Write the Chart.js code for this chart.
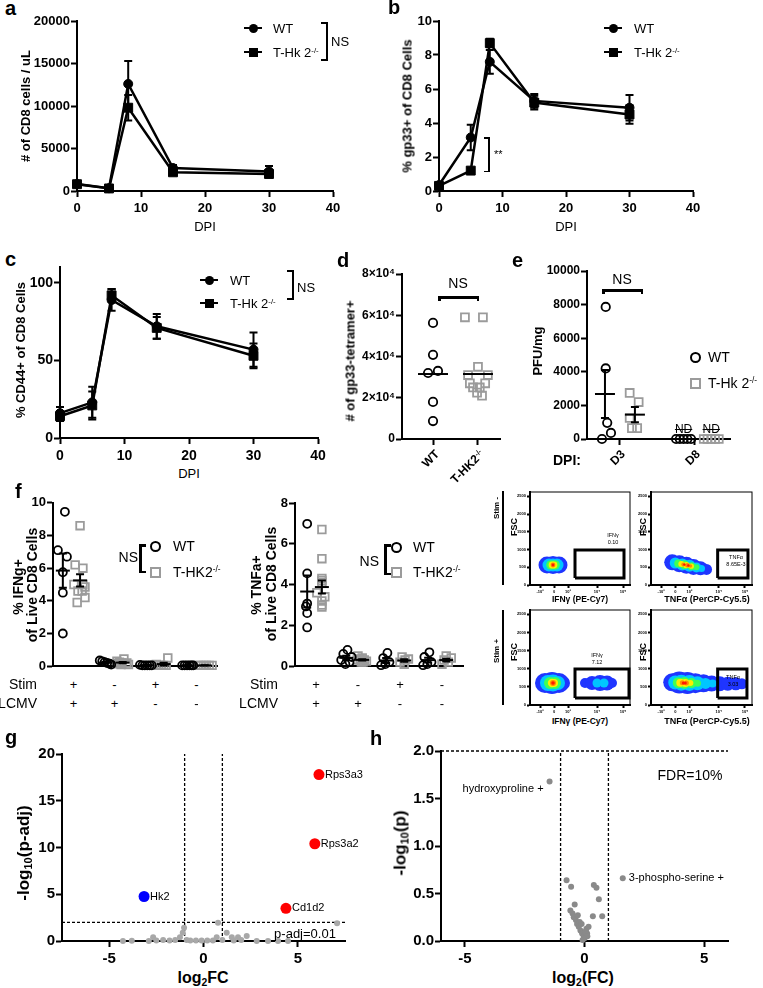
<!DOCTYPE html>
<html>
<head>
<meta charset="utf-8">
<script src="https://cdn.jsdelivr.net/npm/chart.js@4.4.1/dist/chart.umd.min.js"></script>
<style>
body { margin: 0; background: #fff; }
#fig { position: relative; width: 763px; height: 988px; overflow: hidden; font-family: 'Liberation Sans', Arial, sans-serif; color: #000; }
#fig canvas { position: absolute; }
.t { position: absolute; white-space: nowrap; line-height: 1; }
.b { font-weight: bold; }
sup { font-size: 0.6em; position: relative; top: -0.55em; vertical-align: 0; }
sub { font-size: 0.65em; position: relative; top: 0.3em; vertical-align: 0; }
</style>
</head>
<body>
<div id="fig"></div>
<script>
// ---------- data ----------
const dpi = [0, 5, 8, 15, 30];
const cd8WT = [820, 330, 12600, 2700, 2300];
const cd8WTErr = [250, 120, 2700, 350, 650];
const cd8KO = [800, 300, 9800, 2200, 2000];
const cd8KOErr = [200, 100, 1500, 300, 350];
const gp33WT = [0.35, 3.15, 7.6, 5.3, 4.9];
const gp33WTErr = [0.1, 0.75, 0.7, 0.4, 0.75];
const gp33KO = [0.3, 1.2, 8.7, 5.2, 4.5];
const gp33KOErr = [0.1, 0.15, 0.25, 0.4, 0.55];
const cd44WT = [16, 23, 89, 72, 57];
const cd44WTErr = [4, 10, 7, 8, 11];
const cd44KO = [14, 21, 92, 71, 53];
const cd44KOErr = [3, 9, 4, 7, 8];
const cd44Ticks = [0, 50, 100];

// d: gp33-tetramer+ counts (x offset inside each group)
const tetGroups = ['WT', 'T-HK2<sup>-/-</sup>'];
const tetWT = [56300, 40800, 33000, 32000, 18000, 8700];
const tetWTOff = [0, 0, 0.11, -0.11, 0, 0];
const tetKO = [59000, 59000, 35000, 31000, 31000, 27000, 27000, 25000, 25000, 22500, 21000];
const tetKOOff = [-0.29, 0.11, 0, -0.22, 0.22, -0.18, 0.16, -0.11, 0.04, -0.02, 0.09];
const tetMean = [31500, 31500];

// e: viral titres
const pfuDays = ['D3', 'D8'];
const pfuWT = [[7860, 4200, 960, 360, 0], [0, 0, 0, 0, 0]];
const pfuWTOff = [[-0.19, -0.19, -0.17, -0.12, -0.24], [-0.25, -0.2, -0.15, -0.1, -0.05]];
const pfuKO = [[2740, 2200, 1250, 650, 650], [0, 0, 0, 0, 0]];
const pfuKOOff = [[0.13, 0.25, 0.13, 0.16, 0.23], [0.12, 0.17, 0.22, 0.27, 0.32]];
const pfuWTMean = [2680], pfuWTSem = [1430];
const pfuKOMean = [1450], pfuKOSem = [450];

// f: cytokine staining, four conditions
const stimSigns = ['+', '-', '+', '-'];
const lcmvSigns = ['+', '+', '-', '-'];
const ifngWT = [[9.45, 7.1, 6.7, 5.75, 4.5, 2.0], [0.35, 0.3, 0.25, 0.2, 0.15, 0.1], [0.08, 0.05, 0.05, 0.05, 0.05, 0.05], [0.05, 0.05, 0.05, 0.05, 0.05, 0.05]];
const ifngWTOff = [[-0.21, -0.38, -0.16, -0.26, -0.26, -0.26], [-0.36, -0.3, -0.24, -0.18, -0.12, -0.08], [-0.38, -0.32, -0.26, -0.2, -0.14, -0.09], [-0.35, -0.29, -0.23, -0.17, -0.12, -0.08]];
const ifngKO = [[8.6, 6.2, 6.0, 5.0, 5.0, 4.85, 4.6, 4.6, 4.2, 3.9], [0.45, 0.3, 0.25, 0.2, 0.2, 0.15, 0.1, 0.1], [0.5, 0.1, 0.05, 0.05, 0.05, 0.05], [0.05, 0.05, 0.05, 0.05, 0.05, 0.05]];
const ifngKOOff = [[0.16, 0.04, 0.23, 0.01, 0.23, 0.28, 0.11, 0.21, 0.28, 0.09], [0.23, 0.06, 0.12, 0.18, 0.3, 0.1, 0.16, 0.34], [0.3, 0.02, 0.08, 0.14, 0.2, 0.26], [0.04, 0.1, 0.17, 0.24, 0.31, 0.38]];
const ifngWTMean = [5.85, 0.22, 0.06, 0.05], ifngWTSem = [1.05, 0.04, 0.01, 0.01], ifngWTMeanOff = [-0.26, -0.22, -0.22, -0.22];
const ifngKOMean = [5.25, 0.22, 0.13, 0.05], ifngKOSem = [0.38, 0.04, 0.08, 0.01], ifngKOMeanOff = [0.16, 0.2, 0.2, 0.2];
const tnfWT = [[6.98, 4.55, 3.07, 2.93, 2.6, 1.9], [0.8, 0.6, 0.45, 0.3, 0.2, 0.1], [0.65, 0.4, 0.2, 0.1, 0.05], [0.68, 0.45, 0.2, 0.1, 0.05]];
const tnfWTOff = [[-0.21, -0.21, -0.21, -0.24, -0.21, -0.21], [-0.25, -0.35, -0.15, -0.4, -0.2, -0.3], [-0.3, -0.4, -0.25, -0.35, -0.45], [-0.3, -0.42, -0.25, -0.35, -0.45]];
const tnfKO = [[6.7, 5.27, 4.3, 4.2, 4.1, 3.6, 3.4, 3.2, 3.0, 2.9], [0.5, 0.4, 0.35, 0.3, 0.3, 0.25, 0.2, 0.2], [0.45, 0.35, 0.3, 0.2, 0.1], [0.5, 0.4, 0.3, 0.2, 0.1]];
const tnfKOOff = [[0.14, 0.14, 0.14, 0.14, 0.14, 0.02, 0.21, 0.14, 0.14, 0.14], [0.0, 0.1, 0.05, 0.15, -0.02, 0.2, 0.08, 0.12], [0.05, 0.2, 0.12, 0.0, 0.1], [0.1, 0.22, 0.05, 0.15, 0.0]];
const tnfWTMean = [3.66, 0.41, 0.28, 0.3], tnfWTSem = [0.78, 0.1, 0.12, 0.12], tnfWTMeanOff = [-0.21, -0.28, -0.33, -0.33];
const tnfKOMean = [3.88, 0.31, 0.28, 0.3], tnfKOSem = [0.32, 0.03, 0.06, 0.07], tnfKOMeanOff = [0.14, 0.1, 0.1, 0.1];

// flow plots: density levels, outer to inner, [x, FSC, r]
const flowXTicks = [10, 24, 38, 67, 93];
const flowXLabels = ['-10³', '0', '10³', '10⁴', '10⁵'];
const flowYTicks = [0, 500, 1000, 1500, 2000, 2500];
const ifnStimNeg = [
  [[17, 564, 8.5], [23, 564, 9], [29, 564, 8.5]],
  [[19, 564, 6.5], [23, 564, 6.5], [27, 564, 6.5]],
  [[21, 564, 4.8], [25, 564, 4.8]],
  [[22, 564, 3.4], [24, 564, 3.4]],
  [[23, 564, 2.4]],
  [[23, 564, 1.4]]
];
const tnfStimNeg = [
  [[21, 640, 8], [28, 600, 8.5], [35, 555, 8.5], [42, 510, 8], [49, 470, 7], [55, 440, 5.5]],
  [[24, 620, 5.5], [31, 580, 6], [38, 540, 6], [45, 495, 5], [50, 465, 3.5]],
  [[27, 605, 4], [33, 570, 4.5], [40, 530, 4], [45, 500, 3]],
  [[30, 590, 3], [35, 560, 3.2], [40, 530, 2.6]],
  [[32, 580, 2], [36, 555, 2.2], [39, 535, 1.8]],
  [[33, 575, 1.2], [37, 550, 1.2]]
];
const ifnStimPos = [
  [[15, 607, 10], [22, 607, 11], [29, 607, 10], [33, 607, 7], [55, 607, 5], [62, 607, 7], [70, 607, 8], [77, 607, 7.5], [82, 607, 5]],
  [[18, 607, 8], [23, 607, 8.5], [28, 607, 7], [67, 607, 4.5], [74, 607, 4.5]],
  [[20, 607, 6], [25, 607, 6]],
  [[22, 607, 4.2], [24, 607, 4]],
  [[23, 607, 3]],
  [[23, 607, 1.8]]
];
const tnfStimPos = [
  [[21, 625, 9], [28, 618, 11], [36, 610, 11], [44, 603, 10], [52, 598, 9], [60, 592, 8], [68, 588, 7.5], [76, 586, 7], [84, 585, 6.5], [90, 585, 5.5]],
  [[24, 620, 7], [30, 615, 8], [38, 608, 8], [46, 600, 7], [54, 595, 5.5], [61, 590, 4]],
  [[27, 615, 5.5], [33, 610, 6], [40, 604, 5], [46, 598, 3.5]],
  [[29, 614, 4], [34, 609, 4], [39, 604, 3]],
  [[31, 612, 2.5], [35, 608, 2.5]],
  [[32, 610, 1.5], [34, 608, 1.5]]
];
// gates: [xMin, xMax, fscMin, fscMax]
const ifnGateNeg = [45, 94, 197, 987];
const tnfGateNeg = [66, 96, 197, 987];
const ifnGatePos = [45, 99, 193, 994];
const tnfGatePos = [66, 95, 193, 994];

// g: RNA-seq volcano
const gUpX = [6.12, 5.9, 4.37], gUpY = [17.8, 10.4, 3.5], gUpNames = ['Rps3a3', 'Rps3a2', 'Cd1d2'];
const gDownX = [-3.15], gDownY = [4.76], gDownNames = ['Hk2'];
const gNsX = [-4.27, -3.8, -2.9, -2.67, -2.5, -2.14, -1.8, -1.5, -1.25, -1.03, -1.1, -0.89, -0.7, -0.4, -0.1, 0.2, 0.5, 0.7, 0.77, 1.0, 1.23, 1.5, 1.6, 1.83, 2.0, 2.29, 2.82, 3.42, 3.95, 4.48, 7.08];
const gNsY = [0, 0.02, 0, 0.39, 0.05, 0.1, 0.05, 0.1, 0.39, 1.41, 0.88, 0.1, 0.05, 0.05, 0.05, 0.05, 0.05, 0.39, 1.94, 0.1, 0.88, 0.39, 0.05, 0.39, 0.1, 0.53, 0, 0, 0, 0, 1.9];
const gFcCut = [-1, 1], gPCut = 2;

// h: metabolomics volcano
const hHitX = [-1.46, 1.6], hHitY = [1.68, 0.66], hHitNames = ['hydroxyproline +', '3-phospho-serine +'];
const hX = [-0.75, -0.56, -0.41, -0.59, -0.5, -0.45, -0.36, -0.31, -0.24, -0.17, -0.1, -0.03, 0, 0.08, 0.17, 0.11, -0.08, 0.39, 0.5, 0.6, 0.74, 0.35, -0.28, -0.2, 0.04, -0.12, 0.12];
const hY = [0.64, 0.57, 0.385, 0.32, 0.29, 0.25, 0.22, 0.18, 0.15, 0.11, 0.08, 0.05, 0.03, 0.13, 0.15, 0.08, 0.01, 0.59, 0.56, 0.44, 0.26, 0.26, 0.27, 0.2, 0.1, 0.18, 0.05];
const hFcCut = [-1, 1], hPCut = 2;

// ---------- helpers ----------
const fig = document.getElementById('fig');
Chart.defaults.font.family = "'Liberation Sans', Arial, sans-serif";
Chart.defaults.color = '#000';
Chart.defaults.animation = false;
const KO_GREY = '#9b9b9b';

function put(html, x, y, o = {}) {
  const d = document.createElement('div');
  d.className = 't' + (o.bold ? ' b' : '');
  d.innerHTML = html;
  d.style.left = x + 'px';
  d.style.top = y + 'px';
  d.style.fontSize = (o.size || 13) + 'px';
  const ax = { l: '0', c: '-50%', r: '-100%' }[o.anchor || 'l'];
  let tf = `translate(${ax},-50%)`;
  if (o.rot) {
    tf += ` rotate(${o.rot}deg)`;
    d.style.transformOrigin = o.origin || '50% 50%';
  }
  d.style.transform = tf;
  if (o.deco) d.style.textDecoration = o.deco;
  fig.appendChild(d);
  return d;
}

function rule(x, y, w, h, color) {
  const d = document.createElement('div');
  d.style.cssText = `position:absolute;left:${x}px;top:${y}px;width:${w}px;height:${h}px;background:${color || '#000'}`;
  fig.appendChild(d);
}

function mark(cx, cy, shape, open, withLine) {
  if (withLine) rule(cx - 9, cy - 1.25, 18, 2.5);
  const d = document.createElement('div');
  const s = open ? 7 : 9;
  let css = `position:absolute;left:${cx - s / 2 - (open ? 1.5 : 0)}px;top:${cy - s / 2 - (open ? 1.5 : 0)}px;width:${s}px;height:${s}px;`;
  if (open) css += `border:${shape === 'circle' ? '2px solid #000' : '2px solid ' + KO_GREY};`;
  else css += 'background:#000;';
  if (shape === 'circle') css += 'border-radius:50%;';
  d.style.cssText = css;
  fig.appendChild(d);
}

function ax(min, max, o = {}) {
  const a = {
    type: 'linear', min, max,
    grid: { drawOnChartArea: false, drawTicks: !o.noTicks, tickLength: o.tl || 6, tickWidth: o.tw || 2, color: '#000' },
    border: { color: '#000', width: o.bw || 2 },
    ticks: { display: !o.hide, color: '#000', font: { size: o.fs || 13, weight: 'bold' }, padding: o.pad ?? 2, maxRotation: 0, minRotation: 0, autoSkip: false, callback: o.fmt || (v => String(v)) }
  };
  if (o.step) a.ticks.stepSize = o.step;
  if (o.at) a.afterBuildTicks = s => { s.ticks = o.at.map(v => ({ value: v })); };
  return a;
}

function mkChart(box, area, config) {
  const c = document.createElement('canvas');
  const w = box[2] - box[0], h = box[3] - box[1];
  c.width = w; c.height = h;
  c.style.left = box[0] + 'px'; c.style.top = box[1] + 'px';
  c.style.width = w + 'px'; c.style.height = h + 'px';
  fig.appendChild(c);
  const o = config.options;
  o.responsive = false;
  o.maintainAspectRatio = false;
  o.layout = { autoPadding: false, padding: { left: 0, top: area[1] - box[1], right: box[2] - area[2], bottom: 0 } };
  o.scales.x.afterFit = s => { s.height = box[3] - area[3]; };
  o.scales.y.afterFit = s => { s.width = area[0] - box[0]; };
  o.plugins = Object.assign({ legend: { display: false }, tooltip: { enabled: false } }, o.plugins || {});
  config.data.datasets.forEach(d => { d.clip = false; });
  const ch = new Chart(c, config);
  ch.px = v => box[0] + ch.scales.x.getPixelForValue(v);
  ch.py = v => box[1] + ch.scales.y.getPixelForValue(v);
  return ch;
}

// whiskers for datasets that carry an err array
Chart.register({
  id: 'errBars',
  afterDatasetsDraw(chart) {
    const { ctx } = chart, y = chart.scales.y;
    chart.data.datasets.forEach((ds, i) => {
      if (!ds.err) return;
      const meta = chart.getDatasetMeta(i);
      ctx.save();
      ctx.strokeStyle = '#000';
      ctx.lineWidth = ds.errWidth || 2;
      meta.data.forEach((p, j) => {
        const v = ds.data[j].y, e = ds.err[j];
        if (!e) return;
        const y1 = y.getPixelForValue(v + e), y2 = y.getPixelForValue(Math.max(v - e, y.min));
        const c = ds.cap || 4;
        ctx.beginPath();
        ctx.moveTo(p.x, y1); ctx.lineTo(p.x, y2);
        ctx.moveTo(p.x - c, y1); ctx.lineTo(p.x + c, y1);
        ctx.moveTo(p.x - c, y2); ctx.lineTo(p.x + c, y2);
        ctx.stroke();
      });
      ctx.restore();
    });
  }
});

// text next to named points
Chart.register({
  id: 'ptNames',
  afterDatasetsDraw(chart) {
    const { ctx } = chart;
    chart.data.datasets.forEach((ds, i) => {
      if (!ds.names) return;
      const meta = chart.getDatasetMeta(i);
      ctx.save();
      ctx.font = `${ds.nameSize || 11}px 'Liberation Sans', Arial, sans-serif`;
      ctx.fillStyle = '#000';
      ctx.textBaseline = 'middle';
      meta.data.forEach((p, j) => {
        const side = ds.nameSide ? ds.nameSide[j] : 1;
        ctx.textAlign = side > 0 ? 'left' : 'right';
        ctx.fillText(ds.names[j], p.x + side * 6, p.y + (ds.nameDy ? ds.nameDy[j] : 0));
      });
      ctx.restore();
    });
  }
});

const pts = (xs, ys) => xs.map((x, i) => ({ x, y: ys[i] }));

function lineDs(ys, err, shape) {
  return {
    data: pts(dpi, ys), err, showLine: true,
    borderColor: '#000', borderWidth: 2.5, backgroundColor: '#000',
    pointStyle: shape, pointRadius: shape === 'rect' ? 6.3 : 4.5,
    pointBorderWidth: 1, pointBorderColor: '#000', pointBackgroundColor: '#000', cap: 4
  };
}

function openDs(data, shape, r) {
  const grey = shape === 'rect';
  return {
    data, pointStyle: shape, pointRadius: r || (grey ? 5.6 : 4),
    pointBorderWidth: 1.8, pointBorderColor: grey ? KO_GREY : '#000',
    pointBackgroundColor: 'rgba(0,0,0,0)', showLine: false
  };
}

function meanDs(data, err, r) {
  return { data, err, pointStyle: 'line', pointRadius: r, pointBorderWidth: 2, pointBorderColor: '#000', showLine: false, cap: 4 };
}

function grouped(vals, offs) {
  const out = [];
  vals.forEach((g, gi) => g.forEach((v, i) => out.push({ x: gi + 1 + offs[gi][i], y: v })));
  return out;
}

// ---------- a ----------
const boxA = [28, 8, 348, 220], areaA = [77, 21, 333, 191];
mkChart(boxA, areaA, {
  type: 'scatter',
  data: { datasets: [lineDs(cd8WT, cd8WTErr, 'circle'), lineDs(cd8KO, cd8KOErr, 'rect')] },
  options: { scales: { x: ax(0, 40, { step: 10, pad: 4 }), y: ax(0, 20000, { step: 5000, pad: 1 }) } }
});

// ---------- b ----------
const boxB = [400, 8, 710, 220], areaB = [439, 21, 693, 191];
mkChart(boxB, areaB, {
  type: 'scatter',
  data: { datasets: [lineDs(gp33WT, gp33WTErr, 'circle'), lineDs(gp33KO, gp33KOErr, 'rect')] },
  options: { scales: { x: ax(0, 40, { step: 10, pad: 4 }), y: ax(0, 10, { step: 2, pad: 1 }) } }
});

// ---------- c ----------
const boxC = [20, 258, 330, 465], areaC = [60, 267, 318, 438];
mkChart(boxC, areaC, {
  type: 'scatter',
  data: { datasets: [lineDs(cd44WT, cd44WTErr, 'circle'), lineDs(cd44KO, cd44KOErr, 'rect')] },
  options: { scales: { x: ax(0, 40, { step: 10, pad: 4, fs: 14 }), y: ax(0, 110, { at: cd44Ticks, pad: 1, fs: 14 }) } }
});

// ---------- d ----------
const boxD = [345, 262, 505, 450], areaD = [402, 274, 500, 439];
const chD = mkChart(boxD, areaD, {
  type: 'scatter',
  data: {
    datasets: [
      meanDs(pts([1, 2], tetMean), null, 15),
      openDs(tetWT.map((v, i) => ({ x: 1 + tetWTOff[i], y: v })), 'circle', 4.2),
      openDs(tetKO.map((v, i) => ({ x: 2 + tetKOOff[i], y: v })), 'rect', 5.6)
    ]
  },
  options: {
    scales: {
      x: ax(0.31, 2.49, { at: [1, 2], hide: true }),
      y: ax(0, 80000, { step: 20000, pad: 1, fs: 12, fmt: v => v === 0 ? '0' : (v / 10000) + '×10⁴' })
    }
  }
});

// ---------- e ----------
const boxE = [530, 262, 740, 450], areaE = [587, 271, 730, 439];
const chE = mkChart(boxE, areaE, {
  type: 'scatter',
  data: {
    datasets: [
      meanDs([{ x: 0.8, y: pfuWTMean[0] }], pfuWTSem, 10),
      meanDs([{ x: 1.2, y: pfuKOMean[0] }], pfuKOSem, 10),
      openDs(grouped(pfuWT, pfuWTOff), 'circle', 4.2),
      openDs(grouped(pfuKO, pfuKOOff), 'rect', 5.6)
    ]
  },
  options: {
    scales: {
      x: ax(0.56, 2.47, { at: [1, 2], hide: true }),
      y: ax(0, 10000, { step: 2000, pad: 1, fs: 12 })
    }
  }
});

// ---------- f ----------
function fChart(box, area, wt, wtOff, ko, koOff, wtMean, wtSem, wtMOff, koMean, koSem, koMOff, ymax) {
  return mkChart(box, area, {
    type: 'scatter',
    data: {
      datasets: [
        meanDs(wtMean.map((v, i) => ({ x: i + 1 + wtMOff[i], y: v })), wtSem, 7),
        meanDs(koMean.map((v, i) => ({ x: i + 1 + koMOff[i], y: v })), koSem, 7),
        openDs(grouped(wt, wtOff), 'circle', 4),
        openDs(grouped(ko, koOff), 'rect', 5.4)
      ]
    },
    options: {
      scales: {
        x: ax(0.5, 4.5, { noTicks: true, hide: true }),
        y: ax(0, ymax, { step: 2, pad: 1, fs: 13 })
      }
    }
  });
}
const boxF1 = [5, 494, 225, 675], areaF1 = [53, 502, 217, 667];
const chF1 = fChart(boxF1, areaF1, ifngWT, ifngWTOff, ifngKO, ifngKOOff, ifngWTMean, ifngWTSem, ifngWTMeanOff, ifngKOMean, ifngKOSem, ifngKOMeanOff, 10);
const boxF2 = [255, 494, 470, 675], areaF2 = [295, 503, 463, 667];
const chF2 = fChart(boxF2, areaF2, tnfWT, tnfWTOff, tnfKO, tnfKOOff, tnfWTMean, tnfWTSem, tnfWTMeanOff, tnfKOMean, tnfKOSem, tnfKOMeanOff, 8);

// ---------- flow plots ----------
const flowColors = ['#1f35ff', '#00c6ff', '#3dff55', '#ffec00', '#ff8a00', '#ff1a00'];
const framePlugin = {
  id: 'frame',
  afterDraw(chart) {
    const { ctx, chartArea: a } = chart;
    ctx.save();
    ctx.strokeStyle = '#000';
    ctx.lineWidth = 1;
    ctx.strokeRect(a.left, a.top, a.right - a.left, a.bottom - a.top);
    ctx.restore();
  }
};
function flowChart(box, area, levels, gate) {
  const ds = levels.map((lv, i) => ({
    type: 'bubble',
    data: lv.map(p => ({ x: p[0], y: p[1], r: p[2] })),
    backgroundColor: flowColors[i], borderWidth: 0
  })).reverse();
  ds.unshift({
    data: [{ x: gate[0], y: gate[2] }, { x: gate[1], y: gate[2] }, { x: gate[1], y: gate[3] }, { x: gate[0], y: gate[3] }, { x: gate[0], y: gate[2] }],
    showLine: true, borderColor: '#000', borderWidth: 3, pointRadius: 0
  });
  return mkChart(box, area, {
    type: 'scatter',
    data: { datasets: ds },
    options: {
      scales: {
        x: ax(0, 100, { at: flowXTicks, tl: 3, fs: 4, pad: 1, fmt: (v, i) => flowXLabels[i] }),
        y: ax(0, 2620, { at: flowYTicks, tl: 3, fs: 4, pad: 1 })
      }
    },
    plugins: [framePlugin]
  });
}
flowChart([512, 486, 634, 595], [530, 492, 630, 585], ifnStimNeg, ifnGateNeg);
flowChart([633, 486, 756, 595], [651, 492, 752, 585], tnfStimNeg, tnfGateNeg);
flowChart([512, 604, 634, 714], [530, 610, 630, 705], ifnStimPos, ifnGatePos);
flowChart([633, 604, 756, 714], [651, 610, 752, 705], tnfStimPos, tnfGatePos);

// ---------- g ----------
const boxG = [20, 744, 390, 968], areaG = [62, 752, 345, 941];
mkChart(boxG, areaG, {
  type: 'scatter',
  data: {
    datasets: [
      { data: pts(gUpX, gUpY), names: gUpNames, pointRadius: 5.5, pointBackgroundColor: '#ff0000', pointBorderWidth: 0 },
      { data: pts(gDownX, gDownY), names: gDownNames, pointRadius: 5.5, pointBackgroundColor: '#0000ff', pointBorderWidth: 0 },
      { data: pts(gNsX, gNsY), pointRadius: 3, pointBackgroundColor: '#a8a8a8', pointBorderWidth: 0 },
      { data: [{ x: -7.5, y: gPCut }, { x: 7.5, y: gPCut }], showLine: true, borderColor: '#000', borderWidth: 1.3, borderDash: [3, 2], pointRadius: 0 },
      { data: [{ x: gFcCut[0], y: 0 }, { x: gFcCut[0], y: 20 }], showLine: true, borderColor: '#000', borderWidth: 1.3, borderDash: [3, 2], pointRadius: 0 },
      { data: [{ x: gFcCut[1], y: 0 }, { x: gFcCut[1], y: 20 }], showLine: true, borderColor: '#000', borderWidth: 1.3, borderDash: [3, 2], pointRadius: 0 }
    ]
  },
  options: { scales: { x: ax(-7.5, 7.5, { at: [-5, 0, 5], fs: 15, pad: 3 }), y: ax(0, 20, { step: 5, fs: 15, pad: 1 }) } }
});

// ---------- h ----------
const boxH = [395, 741, 740, 968], areaH = [441, 749, 728, 941];
mkChart(boxH, areaH, {
  type: 'scatter',
  data: {
    datasets: [
      { data: pts(hHitX, hHitY), names: hHitNames, nameSide: [-1, 1], nameDy: [8, 0], pointRadius: 3, pointBackgroundColor: '#8a8a8a', pointBorderWidth: 0 },
      { data: pts(hX, hY), pointRadius: 3, pointBackgroundColor: '#8a8a8a', pointBorderWidth: 0 },
      { data: [{ x: -6, y: hPCut }, { x: 6, y: hPCut }], showLine: true, borderColor: '#000', borderWidth: 1.3, borderDash: [3, 2], pointRadius: 0 },
      { data: [{ x: hFcCut[0], y: 0 }, { x: hFcCut[0], y: 2 }], showLine: true, borderColor: '#000', borderWidth: 1.3, borderDash: [3, 2], pointRadius: 0 },
      { data: [{ x: hFcCut[1], y: 0 }, { x: hFcCut[1], y: 2 }], showLine: true, borderColor: '#000', borderWidth: 1.3, borderDash: [3, 2], pointRadius: 0 }
    ]
  },
  options: { scales: { x: ax(-6, 6, { at: [-5, 0, 5], fs: 15, pad: 3 }), y: ax(0, 2, { step: 0.5, fs: 15, pad: 1, fmt: v => v.toFixed(1) }) } }
});

// ---------- text, legends, brackets ----------
const L = { size: 20, bold: true };
put('a', 5, 8, L); put('b', 388, 7, L); put('c', 5, 259, L); put('d', 337, 260, L);
put('e', 512, 260, L); put('f', 15, 491, L); put('g', 5, 737, L); put('h', 370, 738, L);

// a
put('# of CD8 cells / uL', 25, 106, { bold: true, anchor: 'c', rot: -90 });
put('DPI', 205, 226, { anchor: 'c' });
mark(253, 28, 'circle', false, true); mark(253, 52, 'rect', false, true);
put('WT', 273, 28); put('T-Hk 2<sup>-/-</sup>', 273, 52);
rule(326, 22, 2, 39); rule(321, 22, 6, 2); rule(321, 59, 6, 2);
put('NS', 331, 41);

// b
put('% gp33+ of CD8 Cells', 407, 106, { bold: true, anchor: 'c', rot: -90 });
put('DPI', 566, 226, { anchor: 'c' });
mark(613, 28, 'circle', false, true); mark(613, 52, 'rect', false, true);
put('WT', 634, 28); put('T-Hk 2<sup>-/-</sup>', 634, 52);
rule(488, 137, 1.5, 35); rule(484, 137, 5, 1.5); rule(484, 170.5, 5, 1.5);
put('**', 494, 154, { size: 11 });

// c
put('% CD44+ of CD8 Cells', 20, 350, { bold: true, anchor: 'c', rot: -90 });
put('DPI', 189, 473, { anchor: 'c' });
mark(209, 280, 'circle', false, true); mark(209, 303, 'rect', false, true);
put('WT', 230, 280); put('T-Hk 2<sup>-/-</sup>', 230, 303);
rule(292, 270, 2, 30); rule(287, 270, 6, 2); rule(287, 298, 6, 2);
put('NS', 297, 287);

// d
put('# of gp33-tetramer+', 350, 361, { bold: true, anchor: 'c', rot: -90 });
tetGroups.forEach((g, i) => put(g, chD.px(i + 1) + 4, 452, { bold: true, size: 12, anchor: 'r', rot: -45, origin: '100% 50%' }));
rule(438, 296, 41, 3); rule(438, 296, 2.5, 5); rule(476.5, 296, 2.5, 5);
put('NS', 458, 283, { anchor: 'c', size: 14 });

// e
put('PFU/mg', 537, 351, { bold: true, anchor: 'c', rot: -90 });
pfuDays.forEach((g, i) => put(g, chE.px(i + 1) + 3, 452, { bold: true, size: 12, anchor: 'r', rot: -45, origin: '100% 50%' }));
put('DPI:', 553, 460, { bold: true, size: 14 });
rule(602, 289, 41, 3); rule(602, 289, 2.5, 5); rule(640.5, 289, 2.5, 5);
put('NS', 622, 279, { anchor: 'c', size: 14 });
put('ND', chE.px(1.85), chE.py(0) - 10, { anchor: 'c', size: 12, deco: 'line-through' });
put('ND', chE.px(2.22), chE.py(0) - 10, { anchor: 'c', size: 12, deco: 'line-through' });
mark(695, 357, 'circle', true); mark(695, 383, 'rect', true);
put('WT', 708, 357, { size: 14 }); put('T-Hk 2<sup>-/-</sup>', 708, 383, { size: 14 });

// f
put('% IFNg+', 18, 587, { bold: true, anchor: 'c', rot: -90, size: 14 });
put('of Live CD8 Cells', 32, 585, { bold: true, anchor: 'c', rot: -90, size: 14 });
put('% TNFa+', 256, 585, { bold: true, anchor: 'c', rot: -90, size: 14 });
put('of Live CD8 Cells', 271, 584, { bold: true, anchor: 'c', rot: -90, size: 14 });
[[chF1, 37], [chF2, 278]].forEach(([ch, right]) => {
  put('Stim', right, 684, { anchor: 'r', size: 14 });
  put('LCMV', right, 703, { anchor: 'r', size: 14 });
  stimSigns.forEach((s, i) => put(s, ch.px(i + 1), 684, { anchor: 'c', size: 13 }));
  lcmvSigns.forEach((s, i) => put(s, ch.px(i + 1), 703, { anchor: 'c', size: 13 }));
});
put('NS', 138, 557, { anchor: 'r', size: 14 });
rule(139, 544, 3, 29); rule(139, 544, 7, 2.5); rule(139, 570.5, 7, 2.5);
mark(155, 546, 'circle', true); mark(155, 572, 'rect', true);
put('WT', 173, 546, { size: 14 }); put('T-HK2<sup>-/-</sup>', 173, 572, { size: 14 });
put('NS', 379, 561, { anchor: 'r', size: 14 });
rule(384, 544, 3, 31); rule(384, 544, 7, 2.5); rule(384, 572.5, 7, 2.5);
mark(396, 547, 'circle', true); mark(396, 572, 'rect', true);
put('WT', 413, 547, { size: 14 }); put('T-HK2<sup>-/-</sup>', 413, 572, { size: 14 });

// flow annotations
put('Stim -', 497, 508, { bold: true, size: 8, anchor: 'c', rot: -90 });
rule(502, 491, 2, 94);
put('Stim +', 497, 651, { bold: true, size: 8, anchor: 'c', rot: -90 });
rule(502, 610, 2, 95);
[527, 652].forEach(y => { put('FSC', 514, y, { bold: true, size: 9, anchor: 'c', rot: -90 }); put('FSC', 643, y, { bold: true, size: 9, anchor: 'c', rot: -90 }); });
[599, 721].forEach(y => {
  put('IFNγ (PE-Cy7)', 580, y, { bold: true, size: 8.5, anchor: 'c' });
  put('TNFα (PerCP-Cy5.5)', 707, y, { bold: true, size: 9, anchor: 'c' });
});
put('IFNγ', 613, 536, { size: 5.5, anchor: 'c' }); put('0.10', 613, 543, { size: 5.5, anchor: 'c' });
put('TNFα', 736, 558, { size: 5.5, anchor: 'c' }); put('8.65E-3', 736, 565, { size: 5.5, anchor: 'c' });
put('IFNγ', 597, 656, { size: 5.5, anchor: 'c' }); put('7.12', 597, 663, { size: 5.5, anchor: 'c' });
put('TNFα', 733, 678, { size: 5.5, anchor: 'c' }); put('3.03', 733, 685, { size: 5.5, anchor: 'c' });

// g
put('-log<sub>10</sub>(p-adj)', 23, 853, { bold: true, anchor: 'c', rot: -90, size: 17 });
put('log<sub>2</sub>FC', 203, 978, { bold: true, anchor: 'c', size: 16 });
put('p-adj=0.01', 305, 933, { anchor: 'c', size: 13 });

// h
put('-log<sub>10</sub>(p)', 400, 843, { bold: true, anchor: 'c', rot: -90, size: 17 });
put('log<sub>2</sub>(FC)', 583, 978, { bold: true, anchor: 'c', size: 16 });
put('FDR=10%', 690, 775, { anchor: 'c', size: 14 });
</script>
</body>
</html>
